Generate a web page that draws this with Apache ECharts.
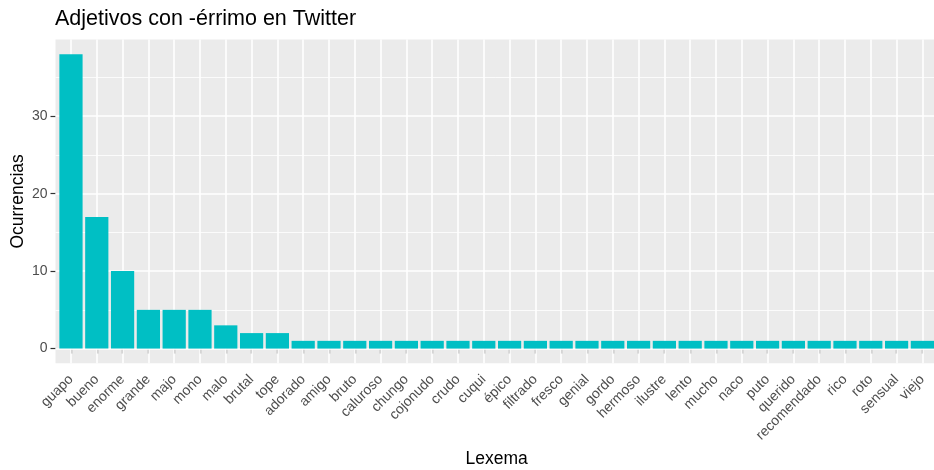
<!DOCTYPE html>
<html>
<head>
<meta charset="utf-8">
<script src="https://cdn.jsdelivr.net/npm/echarts@6/dist/echarts.min.js"></script>
<style>html,body{margin:0;padding:0;background:#fff}#c{width:934px;height:470px}</style>
</head>
<body>
<div id="c"></div>
<script>
const categories = ['guapo','bueno','enorme','grande','majo','mono','malo','brutal','tope','adorado','amigo','bruto','caluroso','chungo','cojonudo','crudo','cuqui','épico','filtrado','fresco','genial','gordo','hermoso','ilustre','lento','mucho','naco','puto','querido','recomendado','rico','roto','sensual','viejo'];
const values = [38,17,10,5,5,5,3,2,2,1,1,1,1,1,1,1,1,1,1,1,1,1,1,1,1,1,1,1,1,1,1,1,1,1];
const yTicks = [0,10,20,30];
const yMinorGrid = [5,15,25,35];
const yMin = -1.9, yMax = 39.9;

const FONT = '"Liberation Sans", Arial, sans-serif';
const panelLeft = 55.5, panelTop = 39.5, panelBottom = 363.3, step = 25.8;
const n = categories.length;
const panelWidth = (n - 1 + 1.2) * step;
const gridLeft = panelLeft + 0.1 * step;
const gridWidth = n * step;
const panelHeight = panelBottom - panelTop;

const chart = echarts.init(document.getElementById('c'), null, {renderer: 'canvas'});
chart.setOption({
  animation: false,
  backgroundColor: '#ffffff',
  title: {
    text: 'Adjetivos con -érrimo en Twitter',
    left: 55, top: 8, padding: 0,
    textStyle: {fontFamily: FONT, fontSize: 21.5, fontWeight: 'normal', color: '#000'}
  },
  grid: [
    {left: panelLeft, top: panelTop, width: panelWidth, height: panelHeight, show: true, backgroundColor: '#EBEBEB', borderWidth: 0, containLabel: false, outerBoundsMode: 'none'},
    {left: gridLeft, top: panelTop, width: gridWidth, height: panelHeight, show: false, containLabel: false, outerBoundsMode: 'none'}
  ],
  xAxis: [
    {gridIndex: 0, type: 'value', min: 0, max: 1, show: false},
    {gridIndex: 1, type: 'category', data: categories, boundaryGap: true,
     axisLine: {show: false},
     axisTick: {show: true, alignWithLabel: true, length: 5, lineStyle: {color: '#333333', width: 1.2}},
     axisLabel: {interval: 0, rotate: 45, margin: 14, padding: [16, 0, 0, 0], fontFamily: FONT, fontSize: 14, color: '#4D4D4D'},
     splitLine: {show: false},
     name: 'Lexema', nameLocation: 'middle', nameGap: 87, nameMoveOverlap: false,
     nameTextStyle: {fontFamily: FONT, fontSize: 17.5, color: '#000'}}
  ],
  yAxis: [
    {gridIndex: 0, type: 'value', min: yMin, max: yMax, show: false},
    {gridIndex: 1, type: 'value', min: yMin, max: yMax, offset: 0.1 * step,
     axisLine: {show: false},
     axisTick: {show: true, length: 5, customValues: yTicks, lineStyle: {color: '#333333', width: 1.2}},
     axisLabel: {customValues: yTicks, margin: 8, fontFamily: FONT, fontSize: 14, color: '#4D4D4D'},
     splitLine: {show: false},
     name: 'Ocurrencias', nameLocation: 'middle', nameGap: 28, nameRotate: 90, nameMoveOverlap: false,
     nameTextStyle: {fontFamily: FONT, fontSize: 17.5, color: '#000'}}
  ],
  series: [
    {type: 'line', xAxisIndex: 0, yAxisIndex: 0, data: [], silent: true,
     markLine: {silent: true, symbol: 'none', z: 1, animation: false, label: {show: false},
       data: yMinorGrid.map(v => ({yAxis: v, lineStyle: {color: '#ffffff', width: 0.8, type: 'solid'}}))
         .concat(yTicks.map(v => ({yAxis: v, lineStyle: {color: '#ffffff', width: 1.6, type: 'solid'}})))}},
    {type: 'line', xAxisIndex: 1, yAxisIndex: 1, data: [], silent: true,
     markLine: {silent: true, symbol: 'none', z: 1, animation: false, label: {show: false},
       data: categories.map(c => ({xAxis: c, lineStyle: {color: '#ffffff', width: 1.6, type: 'solid'}}))}},
    {type: 'bar', xAxisIndex: 1, yAxisIndex: 1, data: values, barWidth: '90%', z: 3,
     itemStyle: {color: '#00BFC4'}, silent: true}
  ]
});
</script>
</body>
</html>
